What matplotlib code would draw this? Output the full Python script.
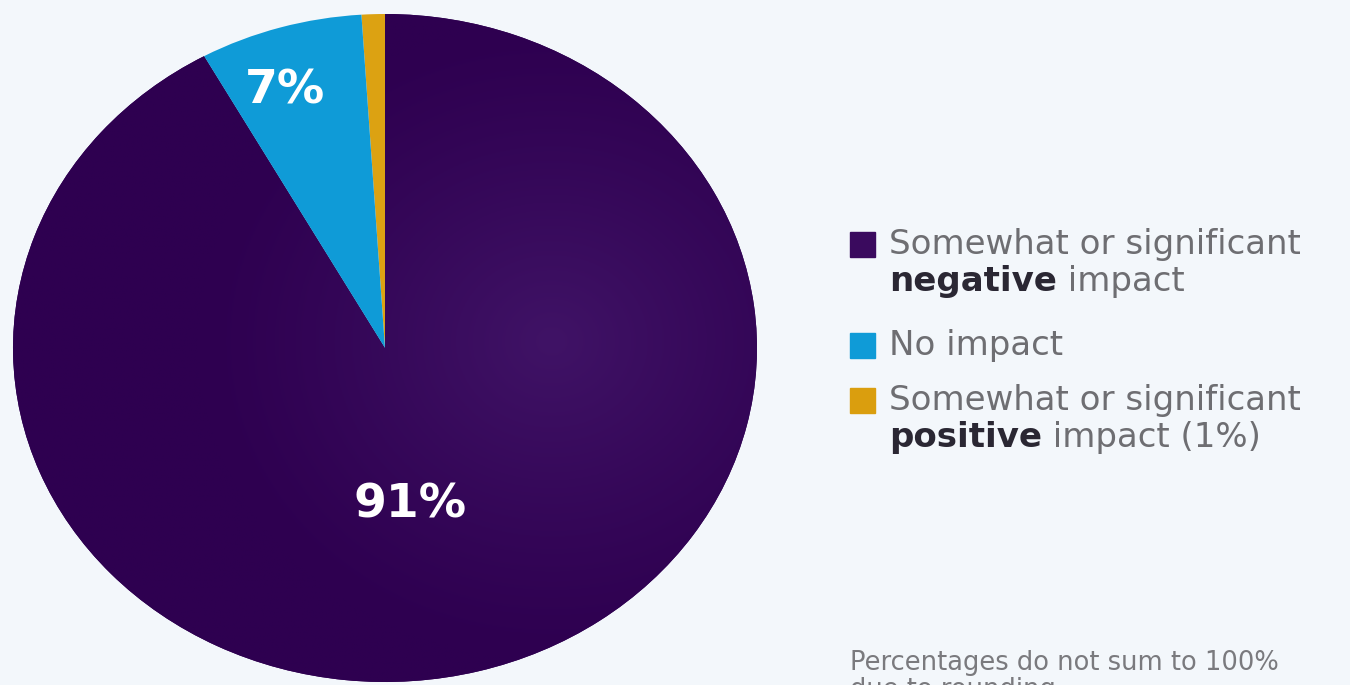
import matplotlib.pyplot as plt
import numpy as np
from matplotlib.patches import Rectangle

W, H = 1350, 685

# data
shares = [91, 7, 1]
pct_labels = ['91%', '7%', '']
colors = ['#2e0050', '#0f9bd7', '#dca212']
legend_colors = ['#3a0a5e', '#0f9bd7', '#da9e0e']
legend_text = [
    ('Somewhat or significant', 'negative', ' impact'),
    ('No impact', None, None),
    ('Somewhat or significant', 'positive', ' impact (1%)'),
]
note_lines = ['Percentages do not sum to 100%', 'due to rounding']

bg = '#f3f7fb'
plt.rcParams['font.family'] = ['DejaVu Sans']

fig = plt.figure(figsize=(W / 100, H / 100), dpi=100, facecolor=bg)


def px(x, y):
    # pixel position (from top-left) -> figure fraction
    return x / W, 1 - y / H


# pie axes: stretched ellipse, centre at (385, 348)
# slices drawn counter-clockwise from 12 o'clock: positive, none, negative
ax = fig.add_axes([13 / W, 3 / H, 744 / W, 668 / H])
ax.set_facecolor('none')
wedges, _ = ax.pie(shares[::-1], colors=colors[::-1], startangle=90,
                   counterclock=True, radius=1.0, wedgeprops=dict(linewidth=0))
wedges = wedges[::-1]
ax.set_aspect('auto')
ax.set_xlim(-1, 1)
ax.set_ylim(-1, 1)
ax.axis('off')

# soft radial glow on the big wedge
gx, gy = np.meshgrid(np.linspace(-1, 1, 400), np.linspace(-1, 1, 400))
d = np.hypot(gx - 0.45, gy - 0.02)
glow = np.clip(1 - d / 0.95, 0, 1) ** 1.2
c0 = np.array([0x2e, 0x00, 0x50]) / 255
c1 = np.array([0x40, 0x13, 0x66]) / 255
img = c0 + (c1 - c0) * glow[..., None]
im = ax.imshow(img, extent=(-1, 1, -1, 1), origin='lower', zorder=1.5,
               aspect='auto')
im.set_clip_path(wedges[0])
wedges[0].set_zorder(1)
wedges[1].set_zorder(2)
wedges[2].set_zorder(2)

# percentage labels inside the wedges
label_pos = [(0.067, -0.47), (-0.27, 0.77)]
for txt, (x, y) in zip(pct_labels, label_pos):
    ax.text(x, y, txt, color='white', fontsize=34, fontweight='bold',
            ha='center', va='center', zorder=5)

# legend
renderer = fig.canvas.get_renderer()
sq = 25
square_top = [232, 333, 388]
baselines = [[254, 291], [355], [410, 447]]
text_x = 889
grey = '#6e6e72'
dark = '#2a2733'
fs = 24.5
for col, top, bl, parts in zip(legend_colors, square_top, baselines, legend_text):
    x0, y0 = px(850, top + sq)
    fig.patches.append(Rectangle((x0, y0), sq / W, sq / H, color=col,
                                 transform=fig.transFigure, figure=fig))
    fig.text(*px(text_x, bl[0]), parts[0], color=grey, fontsize=fs,
             va='baseline', ha='left')
    if parts[1]:
        t = fig.text(*px(text_x, bl[1]), parts[1], color=dark, fontsize=fs,
                     fontweight='bold', va='baseline', ha='left')
        bb = t.get_window_extent(renderer)
        fig.text(bb.x1 / W, 1 - bl[1] / H, parts[2], color=grey, fontsize=fs,
                 va='baseline', ha='left')

# footnote (second line runs off the bottom edge, as in the source)
for i, line in enumerate(note_lines):
    fig.text(*px(850, 670 + 27 * i), line, color='#7a7a7e', fontsize=18.5,
             va='baseline', ha='left')

fig.savefig('out.png', dpi=100, facecolor=bg)
